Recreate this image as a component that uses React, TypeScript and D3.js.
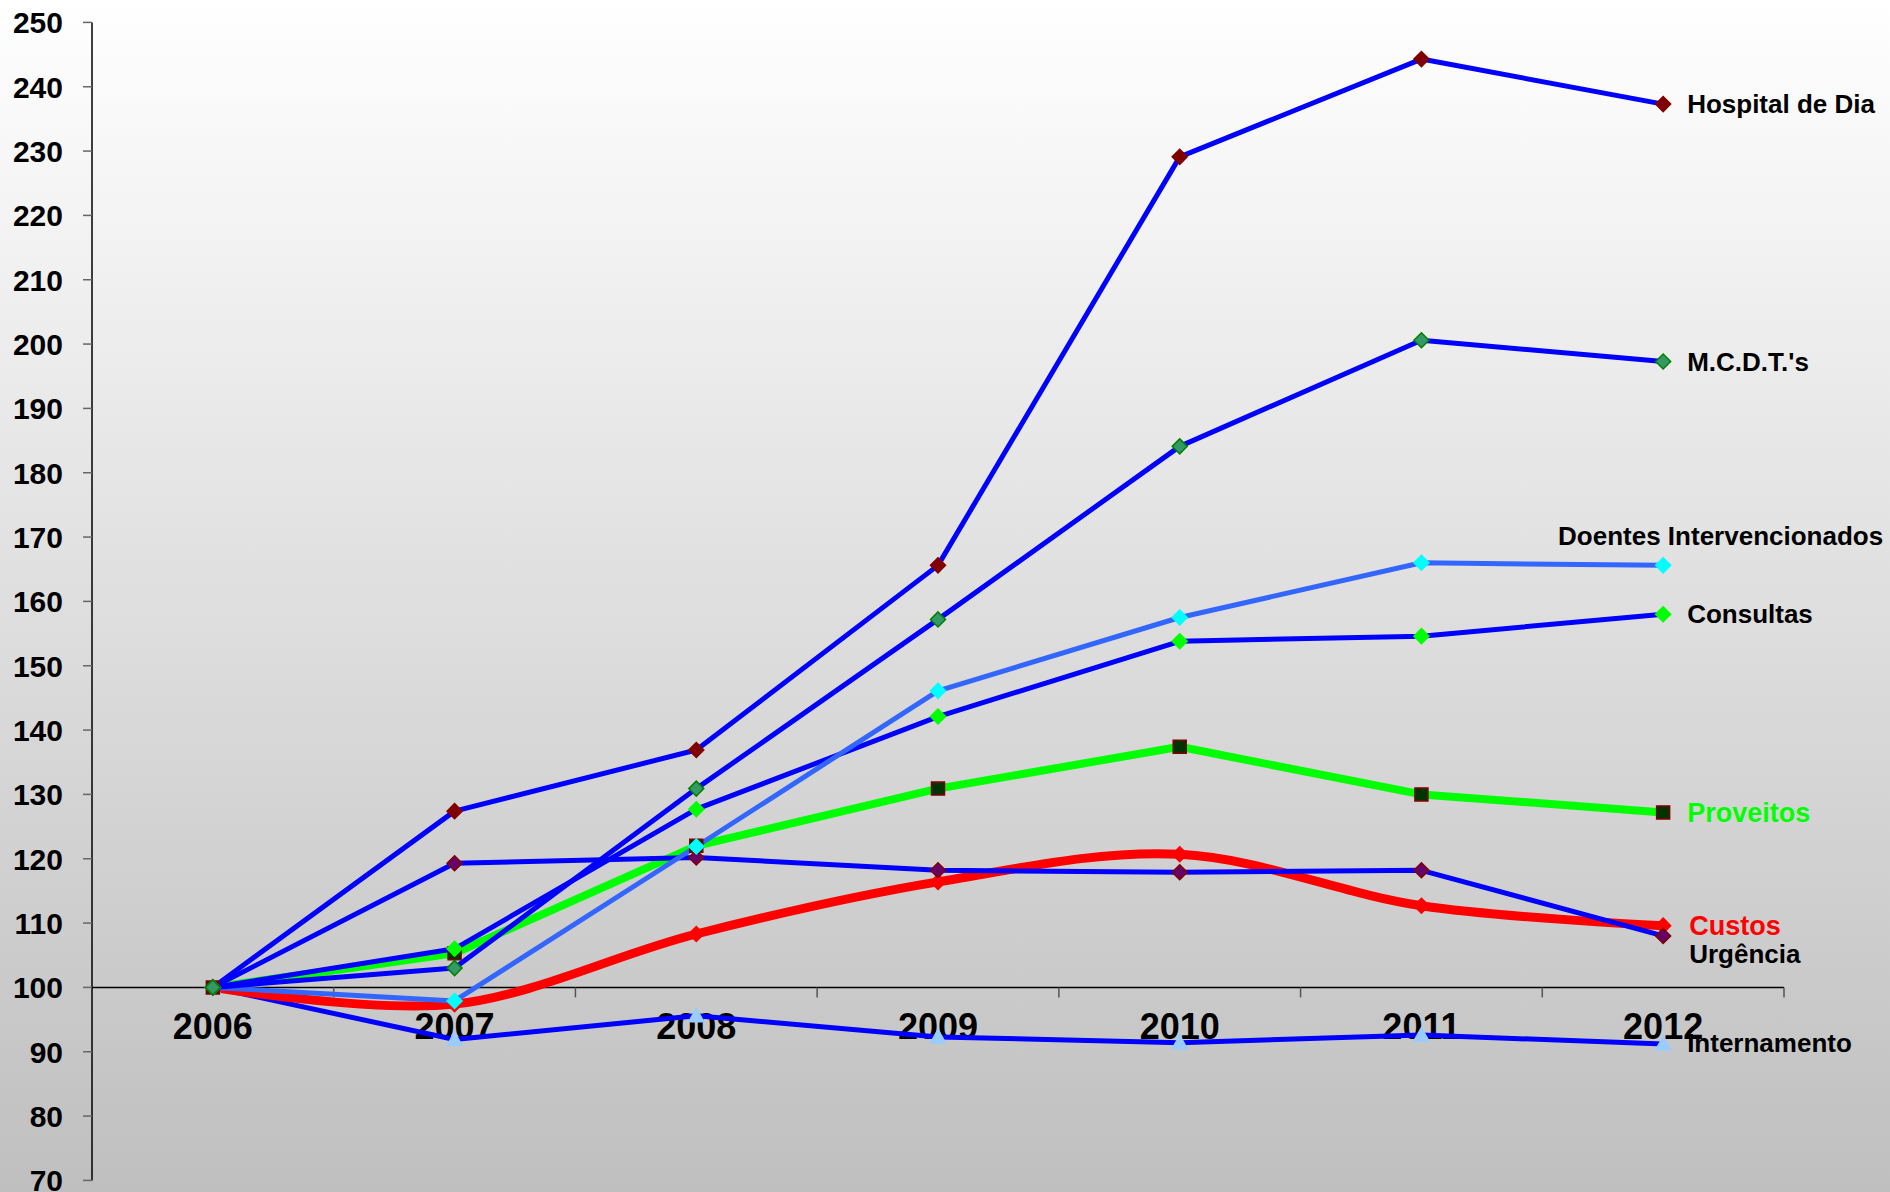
import React from "react";
import * as d3 from "d3";

const years = ["2006", "2007", "2008", "2009", "2010", "2011", "2012"];
const yTicks = [70, 80, 90, 100, 110, 120, 130, 140, 150, 160, 170, 180, 190, 200, 210, 220, 230, 240, 250];

const hospitalDia = [100, 127.4, 136.9, 165.6, 229.1, 244.3, 237.3];
const mcdts = [100, 103.0, 130.9, 157.2, 184.1, 200.6, 197.3];
const doentes = [100, 97.9, 121.9, 146.1, 157.5, 166.0, 165.6];
const consultas = [100, 106.0, 127.7, 142.1, 153.8, 154.6, 158.0];
const proveitos = [100, 105.3, 122.0, 130.9, 137.4, 130.0, 127.2];
const urgencia = [100, 119.3, 120.2, 118.2, 117.9, 118.2, 108.0];
const custos = [100, 97.4, 108.3, 116.4, 120.7, 112.7, 109.6];
const internamento = [100, 91.9, 95.6, 92.3, 91.4, 92.6, 91.2];

type Series = {
  name: string;
  values: number[];
  line: string;
  width: number;
  marker: "diamond" | "square" | "triangle";
  fill: string;
  stroke: string;
  smooth: boolean;
  labelColor: string;
  labelSize: number;
  dx: number;
  dy: number;
  anchor: "start" | "end";
};

const series: Series[] = [
  { name: "Internamento", values: internamento, line: "#0000ff", width: 5, marker: "triangle", fill: "#99ccff", stroke: "#99ccff", smooth: false, labelColor: "#000", labelSize: 26, dx: 24, dy: 8, anchor: "start" },
  { name: "Custos", values: custos, line: "#ff0000", width: 9, marker: "diamond", fill: "#ff0000", stroke: "#ff0000", smooth: true, labelColor: "#ff0000", labelSize: 27, dx: 26, dy: 9, anchor: "start" },
  { name: "Proveitos", values: proveitos, line: "#00ff00", width: 8, marker: "square", fill: "#003300", stroke: "#800000", smooth: false, labelColor: "#00ff00", labelSize: 27, dx: 24, dy: 10, anchor: "start" },
  { name: "Urgência", values: urgencia, line: "#0000ff", width: 5, marker: "diamond", fill: "#660066", stroke: "#800000", smooth: false, labelColor: "#000", labelSize: 26, dx: 26, dy: 27.5, anchor: "start" },
  { name: "Consultas", values: consultas, line: "#0000ff", width: 5, marker: "diamond", fill: "#00ff00", stroke: "#00ff00", smooth: false, labelColor: "#000", labelSize: 26, dx: 24, dy: 9, anchor: "start" },
  { name: "Doentes Intervencionados", values: doentes, line: "#3366ff", width: 5, marker: "diamond", fill: "#00ffff", stroke: "#00ffff", smooth: false, labelColor: "#000", labelSize: 26, dx: 220, dy: -20.7, anchor: "end" },
  { name: "Hospital de Dia", values: hospitalDia, line: "#0000ff", width: 5, marker: "diamond", fill: "#800000", stroke: "#800000", smooth: false, labelColor: "#000", labelSize: 26, dx: 24, dy: 9, anchor: "start" },
  { name: "M.C.D.T.'s", values: mcdts, line: "#0000ff", width: 5, marker: "diamond", fill: "#339966", stroke: "#008000", smooth: false, labelColor: "#000", labelSize: 26, dx: 24, dy: 9.5, anchor: "start" },
];

const W = 1890;
const H = 1192;
const FONT = "'Liberation Sans', Arial, Helvetica, sans-serif";

function markerPath(kind: string, x: number, y: number): string {
  if (kind === "diamond") {
    const r = 7.5;
    return `M${x},${y - r}L${x + r},${y}L${x},${y + r}L${x - r},${y}Z`;
  }
  if (kind === "square") {
    const r = 6.5;
    return `M${x - r},${y - r}H${x + r}V${y + r}H${x - r}Z`;
  }
  const r = 7.5;
  return `M${x},${y - r}L${x + r},${y + r * 0.8}L${x - r},${y + r * 0.8}Z`;
}

export default function App() {
  const xBand = d3.scaleBand<string>().domain(years).range([92, 1784]).padding(0);
  const xc = (c: string) => (xBand(c) as number) + xBand.bandwidth() / 2;
  const y = d3.scaleLinear().domain([70, 250]).range([1180.4, 22.4]);
  const y100 = y(100);

  const boundaries = years.map((c) => (xBand(c) as number) + xBand.bandwidth());

  return (
    <svg width={W} height={H} style={{ position: "absolute", left: 0, top: 0, display: "block" }} fontFamily={FONT}>
      <defs>
        <linearGradient id="bg" x1="0" y1="0" x2="0" y2="1">
          <stop offset="0" stopColor="#ffffff" />
          <stop offset="1" stopColor="#bfbfbf" />
        </linearGradient>
      </defs>
      <rect x={0} y={0} width={W} height={H} fill="url(#bg)" />

      {/* Y axis */}
      <line x1={92} x2={92} y1={y(250)} y2={y(70)} stroke="#000" strokeWidth={1.5} />
      {yTicks.map((t) => (
        <g key={t}>
          <line x1={83} x2={92} y1={y(t)} y2={y(t)} stroke="#666" strokeWidth={1.5} />
          <text x={63} y={y(t) + 10.8} textAnchor="end" fontSize={30} fontWeight="bold" fill="#000">
            {t}
          </text>
        </g>
      ))}

      {/* X axis at 100 */}
      <line x1={92} x2={1784} y1={y100} y2={y100} stroke="#000" strokeWidth={1.5} />
      {boundaries.map((b, i) => (
        <line key={i} x1={b} x2={b} y1={y100} y2={y100 + 10} stroke="#555" strokeWidth={1.5} />
      ))}
      {years.map((c) => (
        <text key={c} x={xc(c)} y={y100 + 51.6} textAnchor="middle" fontSize={36} fontWeight="bold" fill="#000">
          {c}
        </text>
      ))}

      {/* Series */}
      {series.map((s) => {
        const gen = d3
          .line<number>()
          .x((_, i) => xc(years[i]))
          .y((v) => y(v))
          .curve(s.smooth ? d3.curveCardinal.tension(0) : d3.curveLinear);
        return (
          <path key={s.name} d={gen(s.values) || ""} fill="none" stroke={s.line} strokeWidth={s.width} strokeLinejoin="round" strokeLinecap="round" />
        );
      })}
      {series.map((s) => (
        <g key={s.name + "-m"}>
          {s.values.map((v, i) => (
            <path key={i} d={markerPath(s.marker, xc(years[i]), y(v))} fill={s.fill} stroke={s.stroke} strokeWidth={1.5} />
          ))}
        </g>
      ))}

      {/* Labels */}
      {series.map((s) => {
        const last = s.values.length - 1;
        return (
          <text
            key={s.name + "-l"}
            x={xc(years[last]) + s.dx}
            y={y(s.values[last]) + s.dy}
            textAnchor={s.anchor}
            fontSize={s.labelSize}
            fontWeight="bold"
            fill={s.labelColor}
          >
            {s.name}
          </text>
        );
      })}
    </svg>
  );
}
